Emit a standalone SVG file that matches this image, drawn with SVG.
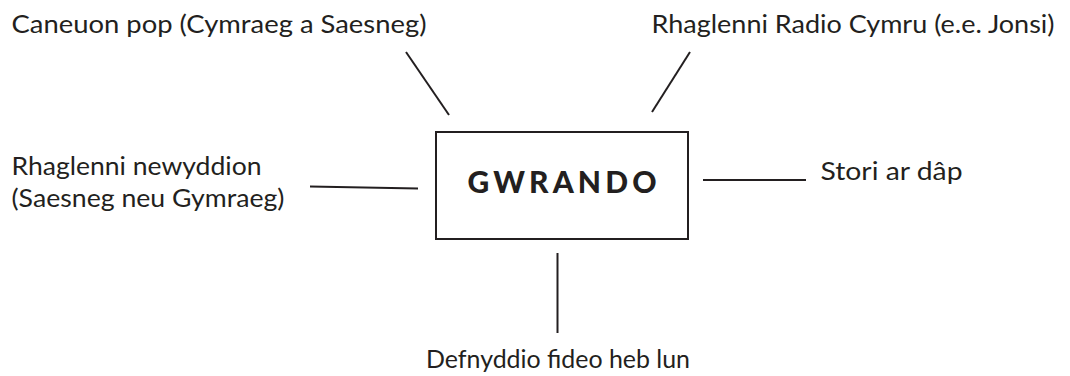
<svg xmlns="http://www.w3.org/2000/svg" width="1070" height="376" viewBox="0 0 1070 376">
<style>
.t{font-family:Lato,"Open Sans","Liberation Sans",sans-serif;font-size:25px;fill:#231f20}
.c{stroke:#231f20;stroke-width:2;fill:none}
.b{fill:#fff;stroke:#231f20;stroke-width:2}
.h{font-family:Lato,"Open Sans","Liberation Sans",sans-serif;font-size:30px;font-weight:900;fill:#231f20}
</style>
<rect width="1070" height="376" fill="#fff"/>
<g id="connectors">
<line class="c" x1="406" y1="52" x2="449" y2="115"/>
<line class="c" x1="690" y1="52" x2="652" y2="112"/>
<line class="c" x1="310" y1="186.5" x2="418" y2="188.5"/>
<line class="c" x1="703" y1="180" x2="806" y2="180"/>
<line class="c" x1="557.5" y1="253" x2="557.5" y2="333"/>
</g>
<g id="center">
<rect class="b" x="436" y="132" width="252" height="107"/>
<text class="h" x="467.5" y="193" textLength="189" lengthAdjust="spacing">GWRANDO</text>
</g>
<g id="n-caneuon">
<text class="t" x="11.5" y="33" textLength="415" lengthAdjust="spacingAndGlyphs">Caneuon pop (Cymraeg a Saesneg)</text>
</g>
<g id="n-radio">
<text class="t" x="651.5" y="33" textLength="403" lengthAdjust="spacingAndGlyphs">Rhaglenni Radio Cymru (e.e. Jonsi)</text>
</g>
<g id="n-newyddion">
<text class="t" x="11.5" y="175" textLength="250" lengthAdjust="spacingAndGlyphs">Rhaglenni newyddion</text>
<text class="t" x="11.5" y="207" textLength="273" lengthAdjust="spacingAndGlyphs">(Saesneg neu Gymraeg)</text>
</g>
<g id="n-stori">
<text class="t" x="820.5" y="179.5" textLength="142" lengthAdjust="spacingAndGlyphs">Stori ar dâp</text>
</g>
<g id="n-fideo">
<text class="t" x="426" y="368" textLength="264" lengthAdjust="spacingAndGlyphs">Defnyddio fideo heb lun</text>
</g>
</svg>
